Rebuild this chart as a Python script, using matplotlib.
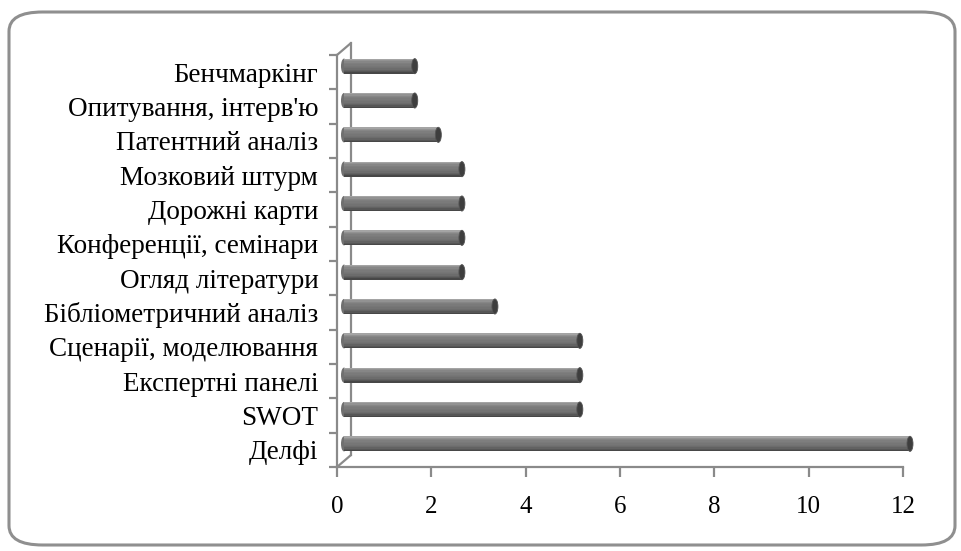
import matplotlib
matplotlib.use("Agg")
import matplotlib.pyplot as plt
from matplotlib.patches import FancyBboxPatch, Ellipse, ConnectionPatch
from matplotlib.transforms import ScaledTranslation
import numpy as np

plt.rcParams['font.family'] = ['Liberation Serif', 'DejaVu Serif']

methods = ["Делфі", "SWOT", "Експертні панелі", "Сценарії, моделювання",
           "Бібліометричний аналіз", "Огляд літератури", "Конференції, семінари",
           "Дорожні карти", "Мозковий штурм", "Патентний аналіз",
           "Опитування, інтерв'ю", "Бенчмаркінг"]
counts = [12, 5, 5, 5, 3.2, 2.5, 2.5, 2.5, 2.5, 2, 1.5, 1.5]
x_ticks = [0, 2, 4, 6, 8, 10, 12]

W, H, DPI = 961, 551, 100
fig = plt.figure(figsize=(W / DPI, H / DPI), dpi=DPI)
fig.patch.set_facecolor("white")

# rounded chart frame
frame = FancyBboxPatch((9 / W, 6 / H), 946 / W, 533 / H,
                       boxstyle="round,pad=0,rounding_size=0.035",
                       transform=fig.transFigure, facecolor="none",
                       edgecolor="#8f8f8f", linewidth=2.2, zorder=-5)
fig.patches.append(frame)

ax = fig.add_axes([337 / W, 84 / H, 566 / W, 412 / H])
ax.set_xlim(0, 12)
ax.set_ylim(-0.5, len(methods) - 0.5)
ax.patch.set_alpha(0)

axis_col = "#8a8a8a"
for s in ("top", "right"):
    ax.spines[s].set_visible(False)
for s in ("left", "bottom"):
    ax.spines[s].set_color(axis_col)
    ax.spines[s].set_linewidth(1.6)

# depth offsets for the 3-D look
back = ax.transData + ScaledTranslation(14 / DPI, 12 / DPI, fig.dpi_scale_trans)
mid = ax.transData + ScaledTranslation(7 / DPI, 6 / DPI, fig.dpi_scale_trans)

y = np.arange(len(methods))
ax.plot([0, 0], [-0.5, len(methods) - 0.5], color=axis_col, lw=1.6,
        transform=back, clip_on=False, zorder=1)
for yy in (-0.5, len(methods) - 0.5):
    cp = ConnectionPatch(xyA=(0, yy), coordsA=ax.transData,
                         xyB=(0, yy), coordsB=back,
                         color=axis_col, lw=1.6, zorder=1)
    ax.add_artist(cp)

# cylinder bars built from shaded horizontal bands (bottom -> top)
bar_h = 0.44
shades = ["#474747", "#565656", "#626262", "#6c6c6c", "#727272",
          "#767676", "#7a7a7a", "#7e7e7e", "#868686", "#929292", "#a4a4a4"]
band_h = bar_h / len(shades)
for i, c in enumerate(shades):
    off = -bar_h / 2 + band_h * (i + 0.5)
    ax.barh(y + off, counts, height=band_h * 1.08, color=c, linewidth=0,
            transform=mid, clip_on=False, zorder=3)

cap_w = 6 / (566 / 12)
for yi, v in zip(y, counts):
    ax.add_patch(Ellipse((v, yi), cap_w, bar_h, facecolor="#3e3e3e",
                         edgecolor="#555555", lw=0.6, transform=mid,
                         clip_on=False, zorder=4))
    ax.add_patch(Ellipse((0, yi), cap_w, bar_h, facecolor="#707070",
                         edgecolor="none", transform=mid,
                         clip_on=False, zorder=2))

ax.set_xticks(x_ticks)
ax.set_xticklabels([str(t) for t in x_ticks], fontsize=18)
ax.tick_params(axis="x", length=7, width=1.6, color=axis_col, pad=14)

ax.set_yticks(y)
ax.set_yticklabels(methods, fontsize=19.5)
ax.set_yticks(np.arange(-0.5, len(methods), 1.0), minor=True)
ax.tick_params(axis="y", which="major", length=0, pad=13.5)
ax.tick_params(axis="y", which="minor", length=6, width=1.6, color=axis_col)

fig.savefig("out.png", dpi=DPI, facecolor="white")
